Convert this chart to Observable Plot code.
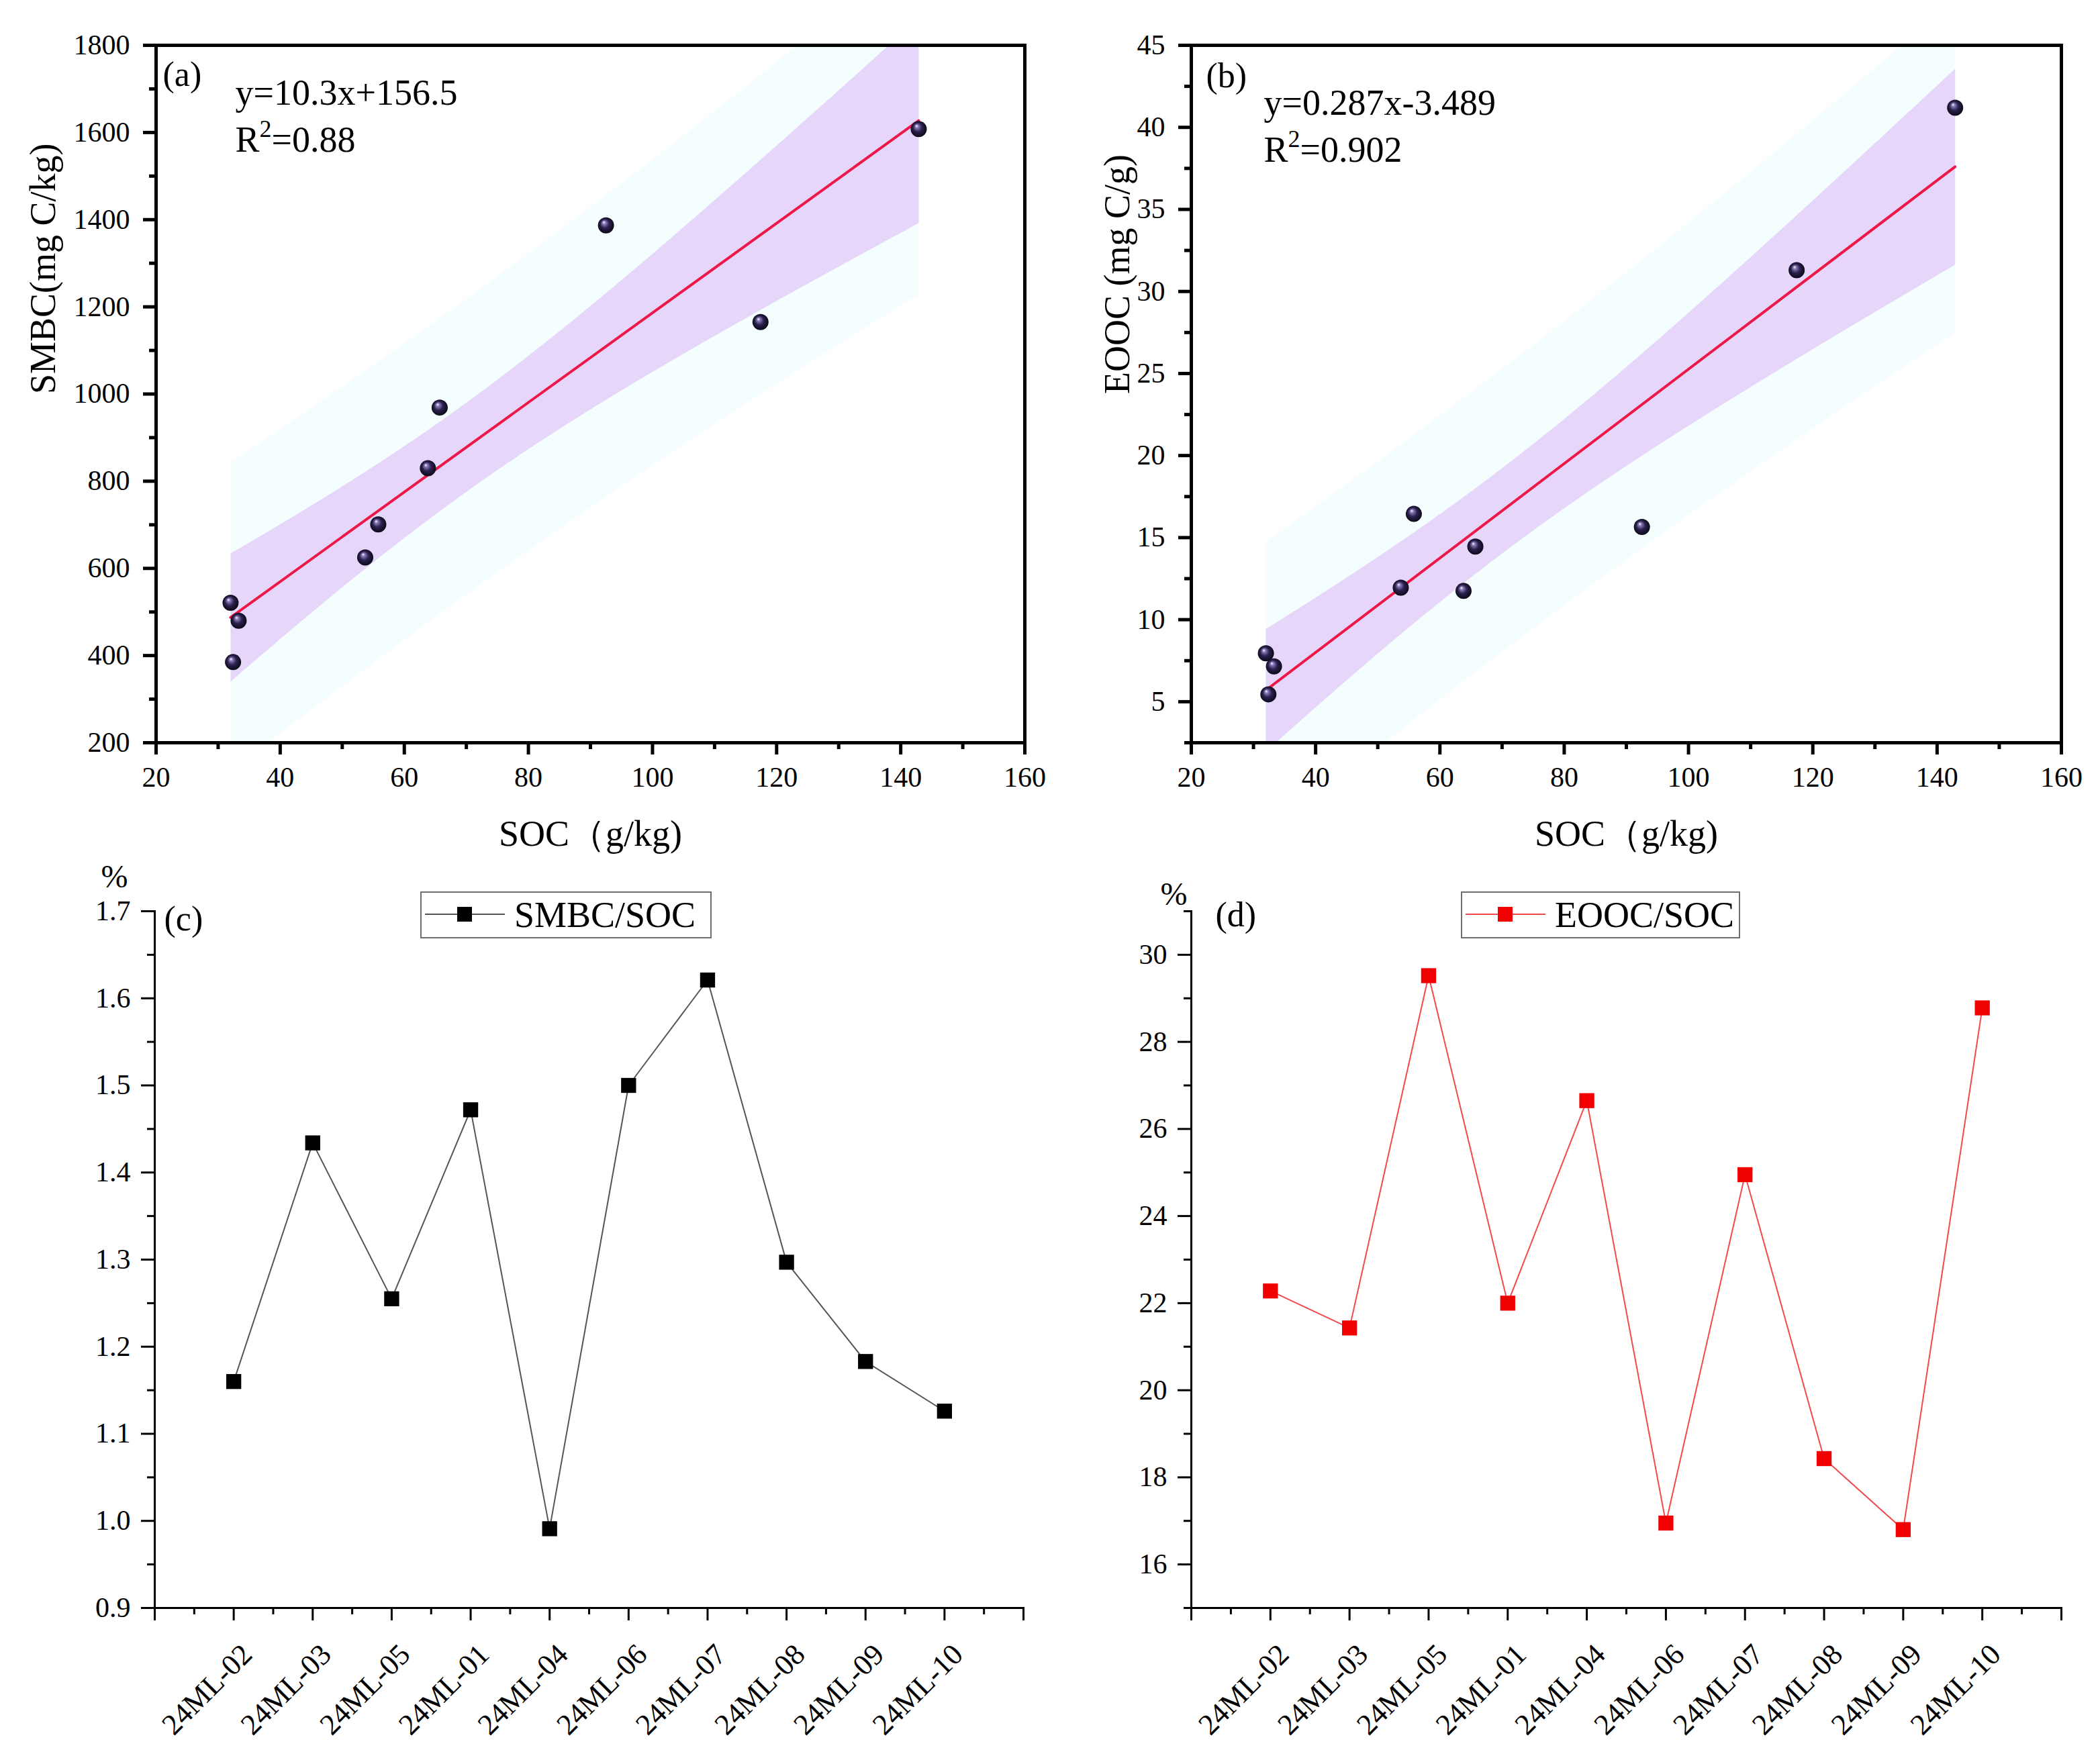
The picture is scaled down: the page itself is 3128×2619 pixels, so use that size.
<!DOCTYPE html>
<html><head><meta charset="utf-8">
<script src="https://cdn.jsdelivr.net/npm/d3@7"></script>
<script src="https://cdn.jsdelivr.net/npm/@observablehq/plot@0.6"></script>
<style>
html,body{margin:0;padding:0;background:#fff;}
#fig{position:relative;width:3128px;height:2619px;background:#fff;font-family:"Liberation Serif","Times New Roman",serif;}
#fig > svg{position:absolute;}
.legend{position:absolute;box-sizing:border-box;border:2px solid #6e6e6e;background:#fff;}
</style></head>
<body><div id="fig"></div>
<script>
// ---------- data ----------
const soc   = [32.0, 33.3, 32.4, 53.7, 55.8, 63.8, 65.7, 92.5, 117.4, 142.9];
const smbc  = [521, 480, 385, 625, 701, 830, 969, 1387, 1165, 1608];
const eooc  = [7.95, 7.15, 5.45, 11.95, 16.45, 11.75, 14.45, 15.65, 31.3, 41.2];
const samples = ["24ML-02","24ML-03","24ML-05","24ML-01","24ML-04","24ML-06","24ML-07","24ML-08","24ML-09","24ML-10"];
const smbcSoc = [1.160, 1.434, 1.255, 1.472, 0.991, 1.500, 1.621, 1.297, 1.183, 1.126];
const eoocSoc = [22.28, 21.43, 29.52, 22.0, 26.65, 16.95, 24.95, 18.43, 16.8, 28.78];
const eqA = ["y=10.3x+156.5", "R²=0.88"];
const eqB = ["y=0.287x-3.489", "R²=0.902"];
const xTitle = "SOC（g/kg)";
const tCrit = 2.306; // Student t, 95%, df = 8

const FONT = '"Liberation Serif","Times New Roman",serif';
const fig = document.getElementById("fig");

// 95% prediction band of the least-squares fit (as drawn by the original software)
function predictionBand(xs, ys) {
  const n = xs.length, mx = d3.mean(xs), my = d3.mean(ys);
  const sxx = d3.sum(xs, x => (x - mx) ** 2);
  const sxy = d3.sum(xs, (x, i) => (x - mx) * (ys[i] - my));
  const b = sxy / sxx, a = my - b * mx;
  const s = Math.sqrt(d3.sum(xs, (x, i) => (ys[i] - a - b * x) ** 2) / (n - 2));
  const [x0, x1] = d3.extent(xs);
  return d3.ticks(x0, x1, 120).concat([x0, x1]).sort(d3.ascending).map(x => {
    const h = tCrit * s * Math.sqrt(1 + 1 / n + (x - mx) ** 2 / sxx);
    return {x, lo: a + b * x - h, hi: a + b * x + h};
  });
}

function addBall(svg, id) {
  const g = d3.select(svg).insert("defs", ":first-child")
    .append("radialGradient").attr("id", id)
    .attr("cx", "0.5").attr("cy", "0.5").attr("r", "0.55").attr("fx", "0.36").attr("fy", "0.3");
  [["0", "#ffffff"], ["0.18", "#8a7cb8"], ["0.5", "#2c2150"], ["1", "#06050c"]]
    .forEach(([o, c]) => g.append("stop").attr("offset", o).attr("stop-color", c));
}

// real superscript for "R²"
function superscript(svg) {
  d3.select(svg).selectAll("text").each(function () {
    const t = this.textContent;
    if (t.startsWith("R²")) {
      const el = d3.select(this);
      el.text("R");
      el.append("tspan").attr("dy", -22).attr("font-size", 36).text("2");
      el.append("tspan").attr("dy", 22).text(t.slice(2));
    }
  });
}

function place(svg, left, top) {
  svg.style.left = left + "px";
  svg.style.top = top + "px";
  svg.style.maxWidth = "none";
  fig.appendChild(svg);
}

function scatter({ys, yDomain, yMajor, yMinor, yTitle, yTitleDx, tag, tagDx, tagDy, eq, eqDx, eqDy, gid, mLeft, mRight}) {
  const pts = soc.map((x, i) => ({x, y: ys[i]}));
  const band = predictionBand(soc, ys);
  const svg = Plot.plot({
    width: 1564, height: 1300,
    marginLeft: mLeft, marginRight: mRight, marginTop: 67, marginBottom: 194,
    style: {fontFamily: FONT, fontSize: "42px", background: "transparent", color: "#000"},
    x: {domain: [20, 160], label: null},
    y: {domain: yDomain, label: null},
    marks: [
      Plot.areaY(band, {x: "x", y1: "lo", y2: "hi", fill: "#F4FEFE", clip: true}),
      Plot.linearRegressionY(pts, {x: "x", y: "y", ci: 0.95, fill: "#E5D6FA", fillOpacity: 1,
        stroke: "#EE1848", strokeWidth: 4, clip: true}),
      Plot.dot(pts, {x: "x", y: "y", r: 12, fill: `url(#${gid})`, stroke: "none"}),
      Plot.frame({stroke: "#000", strokeWidth: 5}),
      Plot.axisX({ticks: d3.range(20, 161, 20), tickSize: 18, tickPadding: 18, strokeWidth: 5,
        tickFormat: d3.format("d"), label: null, fontSize: 42}),
      Plot.axisX({ticks: d3.range(30, 160, 20), tickSize: 10, strokeWidth: 5, text: null, label: null}),
      Plot.axisY({ticks: yMajor, tickSize: 19, tickPadding: 20, strokeWidth: 5,
        tickFormat: d3.format("d"), label: null, fontSize: 42}),
      Plot.axisY({ticks: yMinor, tickSize: 10, strokeWidth: 5, text: null, label: null}),
      Plot.text([xTitle], {frameAnchor: "bottom", dy: 136, lineAnchor: "middle", fontSize: 54}),
      Plot.text([yTitle], {frameAnchor: "left", dx: yTitleDx, rotate: -90, lineAnchor: "middle", fontSize: 54}),
      Plot.text([tag], {frameAnchor: "top-left", dx: tagDx, dy: tagDy, textAnchor: "start", lineAnchor: "bottom", fontSize: 52}),
      Plot.text([eq[0]], {frameAnchor: "top-left", dx: eqDx, dy: eqDy, textAnchor: "start", lineAnchor: "bottom", fontSize: 54}),
      Plot.text([eq[1]], {frameAnchor: "top-left", dx: eqDx, dy: eqDy + 70, textAnchor: "start", lineAnchor: "bottom", fontSize: 54})
    ]
  });
  addBall(svg, gid);
  superscript(svg);
  return svg;
}

function series({vals, yDomain, yMajor, yMinor, yFmt, stroke, fill, tag, tagDx, tagDy, pctDx, pctDy, mLeft, mRight}) {
  const rows = samples.map((s, i) => ({i: i + 1, s, v: vals[i]}));
  return Plot.plot({
    width: 1564, height: 1349,
    marginLeft: mLeft, marginRight: mRight, marginTop: 87, marginBottom: 224,
    style: {fontFamily: FONT, fontSize: "42px", background: "transparent", color: "#000"},
    x: {domain: [0, samples.length + 1], label: null},
    y: {domain: yDomain, label: null},
    marks: [
      Plot.frame({anchor: "left", stroke: "#000", strokeWidth: 3}),
      Plot.frame({anchor: "bottom", stroke: "#000", strokeWidth: 3}),
      Plot.axisY({ticks: yMajor, tickSize: 20, tickPadding: 16, strokeWidth: 3, tickFormat: yFmt, label: null, fontSize: 42}),
      Plot.axisY({ticks: yMinor, tickSize: 11, strokeWidth: 3, text: null, label: null}),
      Plot.axisX({ticks: d3.range(0, samples.length + 2), tickSize: 19, strokeWidth: 3, text: null, label: null}),
      Plot.axisX({ticks: d3.range(0.5, samples.length + 1, 1), tickSize: 10, strokeWidth: 3, text: null, label: null}),
      Plot.text(rows, {x: "i", text: "s", frameAnchor: "bottom", rotate: -45, textAnchor: "end",
        lineAnchor: "bottom", dx: 30, dy: 72, fontSize: 44}),
      Plot.line(rows, {x: "i", y: "v", stroke, strokeWidth: 2}),
      Plot.dot(rows, {x: "i", y: "v", symbol: "square", r: 12.6, fill, stroke: "none"}),
      Plot.text(["%"], {frameAnchor: "top-left", dx: pctDx, dy: pctDy, textAnchor: "start", lineAnchor: "bottom", fontSize: 48}),
      Plot.text([tag], {frameAnchor: "top-left", dx: tagDx, dy: tagDy, textAnchor: "start", lineAnchor: "bottom", fontSize: 52})
    ]
  });
}

function legend(left, top, width, label, stroke, fill) {
  const div = document.createElement("div");
  div.className = "legend";
  Object.assign(div.style, {left: left + "px", top: top + "px", width: width + "px", height: "70px"});
  div.innerHTML = `<svg width="${width}" height="70" style="position:absolute;left:-2px;top:-2px">
    <line x1="7" x2="126" y1="34" y2="34" stroke="${stroke}" stroke-width="2"/>
    <rect x="55" y="23" width="22" height="22" fill="${fill}"/>
    <text x="140" y="53" font-family='${FONT}' font-size="54" fill="#000">${label}</text></svg>`;
  fig.appendChild(div);
}

place(scatter({ys: smbc, yDomain: [200, 1800], yMajor: d3.range(200, 1801, 200), yMinor: d3.range(300, 1800, 200),
  yTitle: "SMBC(mg C/kg)", yTitleDx: -168, tag: "(a)", tagDx: 10, tagDy: 60, eq: eqA, eqDx: 118, eqDy: 88,
  gid: "ballA", mLeft: 232, mRight: 38}), 0, 0);

place(scatter({ys: eooc, yDomain: [2.5, 45], yMajor: d3.range(5, 46, 5), yMinor: d3.range(2.5, 45, 5),
  yTitle: "EOOC (mg C/g)", yTitleDx: -110, tag: "(b)", tagDx: 22, tagDy: 62, eq: eqB, eqDx: 108, eqDy: 103,
  gid: "ballB", mLeft: 210, mRight: 58}), 1564, 0);

place(series({vals: smbcSoc, yDomain: [0.9, 1.7], yMajor: d3.range(9, 18).map(d => d / 10),
  yMinor: d3.range(9, 17).map(d => d / 10 + 0.05), yFmt: d3.format(".1f"), stroke: "#555", fill: "#000",
  tag: "(c)", tagDx: 14, tagDy: 28, pctDx: -80, pctDy: -36, mLeft: 230, mRight: 40}), 0, 1270);

place(series({vals: eoocSoc, yDomain: [15, 31], yMajor: d3.range(16, 31, 2), yMinor: d3.range(15, 32, 2),
  yFmt: d3.format("d"), stroke: "#F24A4A", fill: "#F00000",
  tag: "(d)", tagDx: 36, tagDy: 22, pctDx: -46, pctDy: -10, mLeft: 210, mRight: 58}), 1564, 1270);

legend(626, 1328, 434, "SMBC/SOC", "#555", "#000");
legend(2176, 1328, 416, "EOOC/SOC", "#F24A4A", "#F00000");
</script></body></html>
